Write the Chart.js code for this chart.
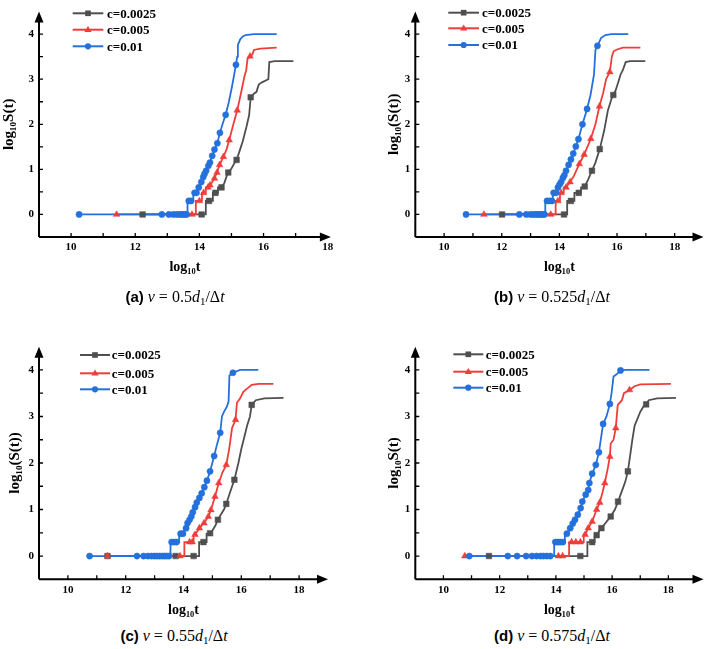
<!DOCTYPE html>
<html><head><meta charset="utf-8">
<script src="https://cdn.jsdelivr.net/npm/chart.js@4.4.1/dist/chart.umd.min.js"></script>
<style>
html,body{margin:0;padding:0;background:#fff}
body{width:708px;height:649px;position:relative;overflow:hidden}
canvas{position:absolute}
.cap{position:absolute;font-family:"Liberation Serif","Times New Roman",serif;font-size:16px;line-height:16px;white-space:nowrap;transform:translateX(-50%);color:#000}
.cap b{font-family:"Liberation Sans",Arial,sans-serif;font-weight:bold;font-size:15px}
.cap i{font-style:italic}
.cap sub{font-size:11px;line-height:0;vertical-align:-3px}
</style></head><body>
<canvas id="ca" width="354" height="290" style="left:0;top:0"></canvas>
<canvas id="cb" width="354" height="290" style="left:354px;top:0"></canvas>
<canvas id="cc" width="354" height="305" style="left:0;top:320px"></canvas>
<canvas id="cd" width="354" height="305" style="left:354px;top:320px"></canvas>
<div class="cap" style="left:175px;top:289px"><b>(a)</b> <i>v</i> = 0.5<i>d</i><sub>1</sub>/Δ<i>t</i></div>
<div class="cap" style="left:552px;top:289px"><b>(b)</b> <i>v</i> = 0.525<i>d</i><sub>1</sub>/Δ<i>t</i></div>
<div class="cap" style="left:174px;top:628px"><b>(c)</b> <i>v</i> = 0.55<i>d</i><sub>1</sub>/Δ<i>t</i></div>
<div class="cap" style="left:552px;top:628px"><b>(d)</b> <i>v</i> = 0.575<i>d</i><sub>1</sub>/Δ<i>t</i></div>
<script>
// ---- tick values ----
const xTicks = [10, 12, 14, 16, 18];
const xMinor = [11, 13, 15, 17];
const yTicks = [0, 1, 2, 3, 4];
const yMinor = [0.5, 1.5, 2.5, 3.5];
const seriesLabels = ['c=0.0025', 'c=0.005', 'c=0.01'];

// ---- data: [log10 t, log10 S(t), marker shown (1) or not (0)] ----
// (a) v = 0.5 d1/dt
const a_c0025 = [[12.23,0,1],[14.07,0,1],[14.2,0,0],[14.2,0.30,0],[14.30,0.30,1],[14.42,0.30,0],[14.42,0.48,0],[14.50,0.48,1],[14.58,0.48,0],[14.58,0.60,0],[14.69,0.60,1],[14.78,0.70,0],[14.85,0.85,0],[14.90,0.93,1],[15.0,1.02,0],[15.10,1.15,0],[15.16,1.21,1],[15.25,1.40,0],[15.35,1.62,0],[15.47,1.95,0],[15.55,2.2,0],[15.60,2.6,1],[15.70,2.68,0],[15.78,2.72,0],[15.85,2.88,0],[15.95,2.93,0],[16.15,3.0,0],[16.18,3.38,0],[16.35,3.40,0],[16.93,3.40,0]];
const a_c005 = [[11.42,0,1],[13.77,0,1],[13.89,0,0],[13.89,0.30,0],[14.0,0.30,1],[14.08,0.30,0],[14.08,0.48,0],[14.13,0.48,1],[14.2,0.48,0],[14.2,0.60,0],[14.27,0.60,1],[14.33,0.65,1],[14.40,0.72,0],[14.47,0.80,1],[14.55,0.93,1],[14.63,1.10,1],[14.75,1.28,1],[14.85,1.45,0],[14.93,1.65,1],[15.06,2.0,0],[15.18,2.31,1],[15.30,2.70,0],[15.40,3.05,0],[15.46,3.20,0],[15.50,3.45,0],[15.58,3.51,1],[15.65,3.55,0],[15.70,3.65,0],[15.90,3.68,0],[16.41,3.70,0]];
const a_c01 = [[10.25,0,1],[12.83,0,1],[13.05,0,1],[13.19,0,1],[13.29,0,1],[13.36,0,1],[13.43,0,1],[13.49,0,1],[13.55,0,1],[13.60,0,1],[13.63,0,0],[13.63,0.30,0],[13.67,0.30,1],[13.74,0.30,1],[13.81,0.30,0],[13.81,0.48,0],[13.85,0.48,1],[13.91,0.48,1],[13.94,0.48,0],[13.94,0.60,0],[13.98,0.60,1],[14.02,0.66,0],[14.06,0.72,1],[14.12,0.83,1],[14.16,0.90,1],[14.21,0.97,1],[14.28,1.08,1],[14.33,1.15,1],[14.40,1.30,1],[14.47,1.44,1],[14.56,1.58,1],[14.64,1.81,1],[14.72,2.0,0],[14.82,2.21,1],[14.92,2.5,0],[15.02,2.85,0],[15.14,3.32,1],[15.18,3.5,0],[15.20,3.76,0],[15.27,3.88,0],[15.35,3.95,0],[15.45,3.98,0],[15.7,4.0,0],[16.41,4.0,0]];

// (b) v = 0.525 d1/dt
const b_c0025 = [[12.01,0,1],[14.16,0,1],[14.27,0,0],[14.27,0.30,0],[14.40,0.30,1],[14.52,0.30,0],[14.52,0.48,0],[14.67,0.48,1],[14.75,0.48,0],[14.75,0.60,0],[14.88,0.62,1],[15.0,0.78,0],[15.13,0.97,1],[15.25,1.15,0],[15.40,1.45,1],[15.55,1.85,0],[15.68,2.3,0],[15.80,2.55,0],[15.87,2.65,1],[15.95,2.75,0],[16.05,2.95,0],[16.12,3.1,0],[16.20,3.2,0],[16.30,3.38,0],[16.45,3.40,0],[16.98,3.40,0]];
const b_c005 = [[11.38,0,1],[13.70,0,1],[13.87,0,0],[13.87,0.30,0],[13.95,0.30,1],[14.02,0.30,0],[14.02,0.48,0],[14.06,0.48,1],[14.15,0.48,0],[14.15,0.60,0],[14.23,0.60,1],[14.37,0.72,1],[14.50,0.85,0],[14.69,1.12,1],[14.86,1.33,1],[15.09,1.68,1],[15.25,2.0,0],[15.39,2.40,1],[15.52,2.7,0],[15.62,3.0,0],[15.70,3.1,0],[15.75,3.16,1],[15.82,3.5,0],[15.88,3.62,0],[16.0,3.66,0],[16.2,3.70,0],[16.81,3.70,0]];
const b_c01 = [[10.76,0,1],[12.61,0,1],[12.85,0,1],[12.99,0,1],[13.08,0,1],[13.16,0,1],[13.23,0,1],[13.30,0,1],[13.36,0,1],[13.42,0,1],[13.48,0,1],[13.51,0,0],[13.51,0.30,0],[13.57,0.30,1],[13.66,0.30,1],[13.74,0.30,1],[13.77,0.30,0],[13.77,0.48,0],[13.80,0.48,1],[13.88,0.48,1],[13.92,0.48,0],[13.92,0.60,0],[13.95,0.60,1],[14.01,0.67,1],[14.06,0.72,1],[14.12,0.81,1],[14.17,0.87,1],[14.23,0.97,1],[14.32,1.10,1],[14.40,1.22,1],[14.48,1.35,1],[14.57,1.51,1],[14.66,1.67,1],[14.80,2.0,1],[14.96,2.34,1],[15.08,2.65,0],[15.20,3.1,0],[15.25,3.65,0],[15.32,3.74,1],[15.45,3.92,0],[15.6,3.98,0],[15.8,4.0,0],[16.39,4.0,0]];

// (c) v = 0.55 d1/dt
const c_c0025 = [[11.37,0,1],[13.73,0,1],[14.35,0,1],[14.54,0,0],[14.54,0.30,0],[14.69,0.30,1],[14.80,0.30,0],[14.80,0.48,0],[14.92,0.49,1],[15.0,0.55,0],[15.10,0.65,0],[15.19,0.78,1],[15.30,0.90,0],[15.40,1.0,0],[15.48,1.12,1],[15.60,1.35,0],[15.76,1.64,1],[15.90,2.0,0],[16.0,2.3,0],[16.10,2.55,0],[16.20,2.8,0],[16.30,3.0,0],[16.36,3.25,1],[16.50,3.35,0],[16.8,3.39,0],[17.46,3.40,0]];
const c_c005 = [[11.37,0,1],[13.88,0,1],[14.03,0,0],[14.03,0.30,0],[14.21,0.30,1],[14.30,0.30,1],[14.35,0.30,0],[14.35,0.46,0],[14.40,0.46,1],[14.50,0.55,0],[14.55,0.60,1],[14.71,0.71,1],[14.86,0.85,1],[14.95,0.99,1],[15.09,1.28,1],[15.22,1.57,1],[15.35,1.8,0],[15.48,1.96,1],[15.58,2.3,0],[15.68,2.75,0],[15.80,2.93,1],[15.85,3.3,0],[15.95,3.38,0],[16.07,3.53,0],[16.20,3.6,0],[16.36,3.68,0],[16.6,3.70,0],[17.11,3.70,0]];
const c_c01 = [[10.75,0,1],[12.39,0,1],[12.62,0,1],[12.77,0,1],[12.89,0,1],[12.99,0,1],[13.08,0,1],[13.17,0,1],[13.26,0,1],[13.34,0,1],[13.42,0,1],[13.50,0,1],[13.55,0,0],[13.55,0.30,0],[13.59,0.30,1],[13.68,0.30,1],[13.76,0.30,1],[13.85,0.30,0],[13.85,0.48,0],[13.90,0.48,1],[13.98,0.48,1],[14.02,0.48,0],[14.02,0.60,0],[14.09,0.60,1],[14.14,0.71,1],[14.21,0.78,1],[14.27,0.85,1],[14.32,0.94,1],[14.40,1.05,1],[14.46,1.15,1],[14.55,1.25,1],[14.63,1.35,1],[14.72,1.48,1],[14.81,1.62,1],[14.92,1.82,1],[15.06,2.15,1],[15.16,2.4,0],[15.27,2.65,1],[15.33,3.0,0],[15.40,3.1,0],[15.50,3.21,0],[15.56,3.32,0],[15.59,3.88,0],[15.71,3.94,1],[15.96,4.0,0],[16.59,4.0,0]];

// (d) v = 0.575 d1/dt
const d_c0025 = [[11.62,0,1],[14.87,0,1],[15.12,0,0],[15.12,0.30,0],[15.29,0.30,1],[15.38,0.30,0],[15.38,0.42,0],[15.45,0.45,1],[15.55,0.55,0],[15.62,0.60,1],[15.75,0.70,0],[15.88,0.80,0],[15.95,0.85,1],[16.10,1.0,0],[16.21,1.17,1],[16.35,1.40,0],[16.47,1.60,0],[16.56,1.82,1],[16.65,2.2,0],[16.72,2.5,0],[16.80,2.8,0],[16.90,2.95,0],[17.0,3.1,0],[17.10,3.2,0],[17.21,3.26,1],[17.30,3.35,0],[17.6,3.39,0],[18.27,3.40,0]];
const d_c005 = [[10.76,0,1],[14.09,0,1],[14.24,0,1],[14.47,0,0],[14.47,0.30,0],[14.56,0.30,1],[14.71,0.30,1],[14.87,0.30,1],[14.99,0.30,0],[14.99,0.46,0],[15.04,0.46,1],[15.15,0.60,1],[15.29,0.74,1],[15.45,1.0,1],[15.56,1.15,1],[15.65,1.35,0],[15.74,1.57,1],[15.85,1.9,0],[15.92,2.14,1],[15.95,2.42,0],[16.05,2.5,0],[16.13,2.75,1],[16.20,3.25,0],[16.35,3.35,0],[16.42,3.5,0],[16.62,3.57,1],[16.8,3.65,0],[17.0,3.69,0],[18.09,3.70,0]];
const d_c01 = [[10.92,0,1],[12.29,0,1],[12.62,0,1],[12.94,0,1],[13.15,0,1],[13.31,0,1],[13.45,0,1],[13.56,0,1],[13.68,0,1],[13.80,0,1],[13.94,0,0],[13.94,0.30,0],[13.98,0.30,1],[14.07,0.30,1],[14.15,0.30,1],[14.25,0.30,1],[14.32,0.30,0],[14.32,0.48,0],[14.39,0.48,1],[14.45,0.48,0],[14.45,0.60,0],[14.51,0.60,1],[14.60,0.70,1],[14.68,0.78,1],[14.78,0.89,1],[14.88,1.03,1],[14.94,1.17,1],[15.06,1.32,1],[15.15,1.42,1],[15.19,1.57,1],[15.29,1.77,1],[15.42,1.96,1],[15.53,2.23,1],[15.62,2.6,0],[15.68,2.84,1],[15.80,3.0,0],[15.92,3.27,1],[15.98,3.5,0],[16.05,3.86,0],[16.15,3.9,0],[16.30,3.99,1],[16.5,4.0,0],[17.33,4.0,0]];

// ---- styles ----
const COLORS = ['#4f4f4f', '#ef3d3a', '#2470dc'];
const STYLES = ['rect', 'triangle', 'circle'];
const RADII = [4.0, 3.8, 3.1];
const FONT = '"Liberation Serif", "Times New Roman", serif';

function drawMarker(ctx, style, r, cx, cy) {
  ctx.beginPath();
  if (style === 'circle') {
    ctx.arc(cx, cy, r, 0, Math.PI * 2);
  } else if (style === 'rect') {
    const s = r * Math.SQRT1_2;
    ctx.rect(cx - s, cy - s, 2 * s, 2 * s);
  } else {
    ctx.moveTo(cx, cy - r);
    ctx.lineTo(cx - r * 0.95, cy + r * 0.6);
    ctx.lineTo(cx + r * 0.95, cy + r * 0.6);
    ctx.closePath();
  }
  ctx.fill();
}

const axesPlugin = {
  id: 'axesArrows',
  beforeDatasetsDraw(chart) {
    const {ctx, chartArea: a, scales: {x, y}} = chart;
    ctx.save();
    ctx.strokeStyle = '#000';
    ctx.fillStyle = '#000';
    ctx.lineWidth = 2;
    ctx.beginPath();
    ctx.moveTo(a.left, a.bottom); ctx.lineTo(a.right - 6, a.bottom);
    ctx.moveTo(a.left, a.bottom); ctx.lineTo(a.left, a.top + 6);
    ctx.stroke();
    ctx.beginPath();
    ctx.moveTo(a.right, a.bottom); ctx.lineTo(a.right - 11, a.bottom - 4.5); ctx.lineTo(a.right - 11, a.bottom + 4.5); ctx.closePath();
    ctx.fill();
    ctx.beginPath();
    ctx.moveTo(a.left, a.top); ctx.lineTo(a.left - 4.5, a.top + 11); ctx.lineTo(a.left + 4.5, a.top + 11); ctx.closePath();
    ctx.fill();
    ctx.lineWidth = 1.3;
    ctx.beginPath();
    xTicks.concat(xMinor).forEach(v => {
      const px = x.getPixelForValue(v);
      if (px > a.right - 10) return;
      ctx.moveTo(px, a.bottom); ctx.lineTo(px, a.bottom - 4);
    });
    yTicks.concat(yMinor).forEach(v => {
      const py = y.getPixelForValue(v);
      ctx.moveTo(a.left, py); ctx.lineTo(a.left + 4, py);
    });
    ctx.stroke();
    ctx.restore();
  },
  afterDatasetsDraw(chart) {
    const lg = chart.options.plugins.lineLegend;
    if (!lg) return;
    const ctx = chart.ctx;
    ctx.save();
    seriesLabels.forEach((lab, i) => {
      const yy = lg.rows[i];
      ctx.strokeStyle = COLORS[i];
      ctx.fillStyle = COLORS[i];
      ctx.lineWidth = 2;
      ctx.beginPath(); ctx.moveTo(lg.x0, yy); ctx.lineTo(lg.x1, yy); ctx.stroke();
      drawMarker(ctx, STYLES[i], RADII[i], (lg.x0 + lg.x1) / 2, yy);
      ctx.fillStyle = '#000';
      ctx.font = 'bold 13px ' + FONT;
      ctx.textBaseline = 'middle';
      ctx.textAlign = 'left';
      ctx.fillText(lab, lg.tx, yy + 1);
    });
    ctx.restore();
  }
};

function makeChart(id, series, p) {
  const datasets = [];
  series.forEach((s, i) => {
    datasets.push({
      label: seriesLabels[i],
      data: s.map(q => ({x: q[0], y: q[1]})),
      borderColor: COLORS[i], borderWidth: 1.8,
      pointRadius: 0, fill: false, tension: 0,
      order: 5 - i
    });
  });
  series.forEach((s, i) => {
    datasets.push({
      label: seriesLabels[i] + ' markers',
      data: s.filter(q => q[2] === 1).map(q => ({x: q[0], y: q[1]})),
      showLine: false,
      pointStyle: STYLES[i], pointRadius: RADII[i],
      pointBackgroundColor: COLORS[i], pointBorderColor: COLORS[i], pointBorderWidth: 0.5,
      order: 2 - i
    });
  });
  const tickFont = {family: FONT, weight: 'bold', size: 11};
  const xTitleFont = {family: FONT, weight: 'bold', size: 14};
  const yTitleFont = {family: FONT, weight: 'bold', size: 15};
  new Chart(document.getElementById(id), {
    type: 'line',
    data: {datasets},
    options: {
      responsive: false, maintainAspectRatio: false, animation: false, events: [],
      layout: {padding: {left: p.padL, right: p.padR, top: p.padT, bottom: p.padB}},
      plugins: {legend: {display: false}, tooltip: {enabled: false}, lineLegend: p.legend},
      scales: {
        x: {
          type: 'linear', min: 9, max: p.xMax,
          afterBuildTicks: s => { s.ticks = xTicks.map(v => ({value: v})); },
          afterFit: s => { s.height = 42; },
          grid: {display: false, drawTicks: false}, border: {display: false},
          ticks: {font: tickFont, color: '#000', padding: 4, maxRotation: 0, autoSkip: false},
          title: {display: true, text: 'log₁₀t', font: xTitleFont, color: '#000', padding: {top: 0, bottom: 3}}
        },
        y: {
          type: 'linear', min: -0.5, max: 4.5,
          afterBuildTicks: s => { s.ticks = yTicks.map(v => ({value: v})); },
          afterFit: s => { s.width = p.yW; },
          grid: {display: false, drawTicks: false}, border: {display: false},
          ticks: {font: tickFont, color: '#000', padding: 5},
          title: {display: true, text: p.yTitle, font: yTitleFont, color: '#000', padding: {top: 0.5, bottom: 0}}
        }
      }
    },
    plugins: [axesPlugin]
  });
}

makeChart('ca', [a_c0025, a_c005, a_c01], {
  xMax: 18.1, padL: 0, yW: 39, padR: 23.1, padT: 4, padB: 11, yTitle: 'log₁₀S(t)',
  legend: {x0: 72.7, x1: 103.3, tx: 107, rows: [13.3, 29.7, 46.3]}
});
makeChart('cb', [b_c0025, b_c005, b_c01], {
  xMax: 19.0, padL: 30.6, yW: 30.7, padR: 3.1, padT: 4, padB: 11, yTitle: 'log₁₀(S(t))',
  legend: {x0: 94.3, x1: 125, tx: 128, rows: [12.7, 28.3, 45]}
});
makeChart('cc', [c_c0025, c_c005, c_c01], {
  xMax: 19.0, padL: 6, yW: 33, padR: 26, padT: 26.7, padB: 3.7, yTitle: 'log₁₀(S(t))',
  legend: {x0: 80, x1: 110, tx: 111.7, rows: [35, 53.3, 69.3]}
});
makeChart('cd', [d_c0025, d_c005, d_c01], {
  xMax: 19.25, padL: 30.6, yW: 30.7, padR: 2.3, padT: 26.7, padB: 3.7, yTitle: 'log₁₀S(t)',
  legend: {x0: 99.3, x1: 129.3, tx: 131.7, rows: [34.3, 51.7, 67.7]}
});
</script>
</body></html>
